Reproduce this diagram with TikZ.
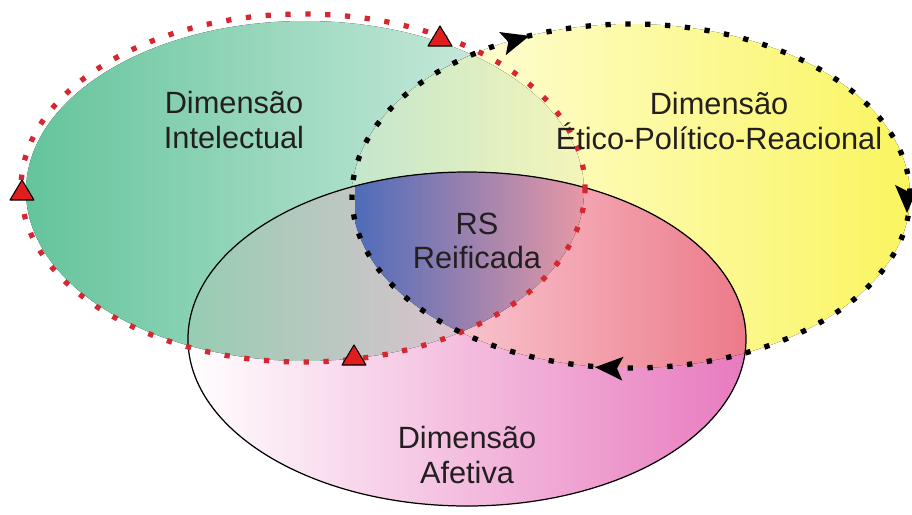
\documentclass[tikz,border=0pt]{standalone}
\usepackage{fontspec}
\setmainfont{Liberation Sans}
\definecolor{gA}{RGB}{100,196,155}
\definecolor{gB}{RGB}{222,241,233}
\definecolor{yA}{RGB}{255,255,240}
\definecolor{yB}{RGB}{250,245,95}
\definecolor{gyA}{RGB}{195,230,205}
\definecolor{gyB}{RGB}{245,245,185}
\definecolor{aA}{RGB}{255,255,255}
\definecolor{aB}{RGB}{232,122,190}
\definecolor{agA}{RGB}{150,205,178}
\definecolor{agB}{RGB}{220,194,206}
\definecolor{ayA}{RGB}{248,195,205}
\definecolor{ayB}{RGB}{236,122,137}
\definecolor{tA}{RGB}{78,108,185}
\definecolor{tB}{RGB}{232,152,165}
\definecolor{dotR}{RGB}{214,38,48}
\definecolor{triR}{RGB}{225,30,30}
\definecolor{txt}{RGB}{35,31,32}
\newcommand\blkarrow[3]{\fill[black,shift={(#1,#2)},rotate=#3] (15,0) -- (-13,12) -- (-7,0) -- (-13,-12) -- cycle;}
\newcommand\redtri[2]{\filldraw[fill=triR,draw=black,line width=0.6pt,line join=round,shift={(#1,#2)}] (0,-11) -- (12,9) -- (-12,9) -- cycle;}
\begin{document}
\begin{tikzpicture}[x=0.02cm,y=-0.02cm,
  ellG/.style={insert path={(305,191) ellipse [x radius=279, y radius=170]}},
  ellGo/.style={insert path={(303,188) ellipse [x radius=282, y radius=174]}},
  ellY/.style={insert path={(631,196) ellipse [x radius=279, y radius=172]}},
  ellA/.style={insert path={(467,339) ellipse [x radius=279, y radius=167]}},
  dotline/.style={line width=3pt, dash pattern=on 3pt off 8.3pt, line cap=butt},
  lbl/.style={align=center, text=txt, inner sep=0pt, font=\fontsize{17.5}{19.8}\selectfont}]
\useasboundingbox (0,0) rectangle (912,514);
% green region
\begin{scope}
  \clip[ellG];
  \fill[left color=gA, right color=gB] (26,0) rectangle (585,514);
\end{scope}
% yellow region
\begin{scope}
  \clip[ellY];
  \fill[left color=yA, right color=yB] (352,0) rectangle (910,514);
\end{scope}
% green and yellow
\begin{scope}
  \clip[ellG];
  \clip[ellY];
  \fill[left color=gyA, right color=gyB] (352,0) rectangle (585,514);
\end{scope}
% affective
\begin{scope}
  \clip[ellA];
  \fill[left color=aA, right color=aB] (188,0) rectangle (746,514);
\end{scope}
% affective and green
\begin{scope}
  \clip[ellA];
  \clip[ellG];
  \fill[left color=agA, right color=agB] (188,0) rectangle (460,514);
\end{scope}
% affective and yellow
\begin{scope}
  \clip[ellA];
  \clip[ellY];
  \fill[left color=ayA, right color=ayB] (460,0) rectangle (746,514);
\end{scope}
% triple
\begin{scope}
  \clip[ellA];
  \clip[ellG];
  \clip[ellY];
  \fill[left color=tA, right color=tB] (355,0) rectangle (585,514);
\end{scope}
% outlines
\draw[black, line width=0.7pt, ellA];
\draw[dotR, dotline, ellGo];
\draw[black, dotline, ellY];
% markers
\redtri{22}{191}
\redtri{440}{37}
\redtri{354}{356}
\blkarrow{515}{40}{16}
\blkarrow{907}{198}{-90}
\blkarrow{610}{368}{177}
% labels
\node[lbl] (intel) at (234,120) {Dimensão\\Intelectual};
\node[lbl] (etico) at (719,121) {Dimensão\\Ético-Político-Reacional};
\node[lbl] (rs) at (477,241) {RS\\Reificada};
\node[lbl] (afet) at (467,455) {Dimensão\\Afetiva};
\end{tikzpicture}
\end{document}
